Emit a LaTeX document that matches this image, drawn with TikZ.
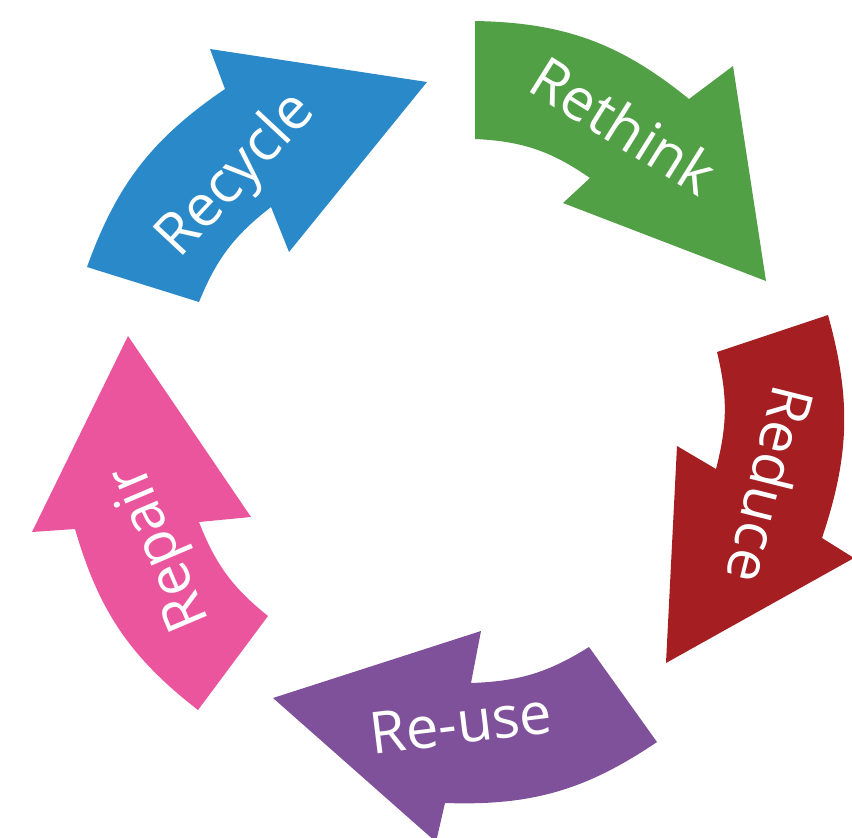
\documentclass[tikz,border=0pt]{standalone}
\usepackage{fontspec}
\setmainfont{Open Sans}
\definecolor{cgreen}{HTML}{52A046}
\definecolor{cred}{HTML}{A41E22}
\definecolor{cpurple}{HTML}{7F519A}
\definecolor{cpink}{HTML}{EA559D}
\definecolor{cblue}{HTML}{2A89C9}
\begin{document}
\begin{tikzpicture}[x=1pt,y=-1pt,
  lbl/.style={text=white, font=\fontsize{58}{62}\selectfont, inner sep=0pt}]
\useasboundingbox (0,0) rectangle (852,838);
% Rethink
\fill[cgreen] (475,21) to[bend left=19] (689,99) -- (733,66) -- (766,281) -- (563,203) -- (590,178) to[bend right=16] (475,139) -- cycle;
% Reduce
\fill[cred] (828,315) to[bend left=17] (822,538) -- (854,558) -- (666,663) -- (677,446) -- (716,469) to[bend right=14] (717,352) -- cycle;
% Re-use
\fill[cpurple] (657,742) to[bend left=18] (445,803) -- (436,842) -- (273,698) -- (481,631) -- (471,683) to[bend right=15] (589,647) -- cycle;
% Repair
\fill[cpink] (198,710) to[bend left=18] (75,529) -- (32,532) -- (128,336) -- (251,517) -- (199,522) to[bend right=15] (268,616) -- cycle;
% Recycle
\fill[cblue] (87,267) to[bend left=18] (225,89) -- (210,49) -- (427,82) -- (289,252) -- (271,207) to[bend right=15] (199,302) -- cycle;
\node[lbl, rotate=-32] (t1) at (624,125) {Rethink};
\node[lbl, rotate=-104] (t2) at (771,485) {Reduce};
\node[lbl, rotate=7] (t3) at (461,723) {Re-use};
\node[lbl, rotate=113] (t4) at (162,547) {Repair};
\node[lbl, rotate=47] (t5) at (237,176) {Recycle};
\end{tikzpicture}
\end{document}
